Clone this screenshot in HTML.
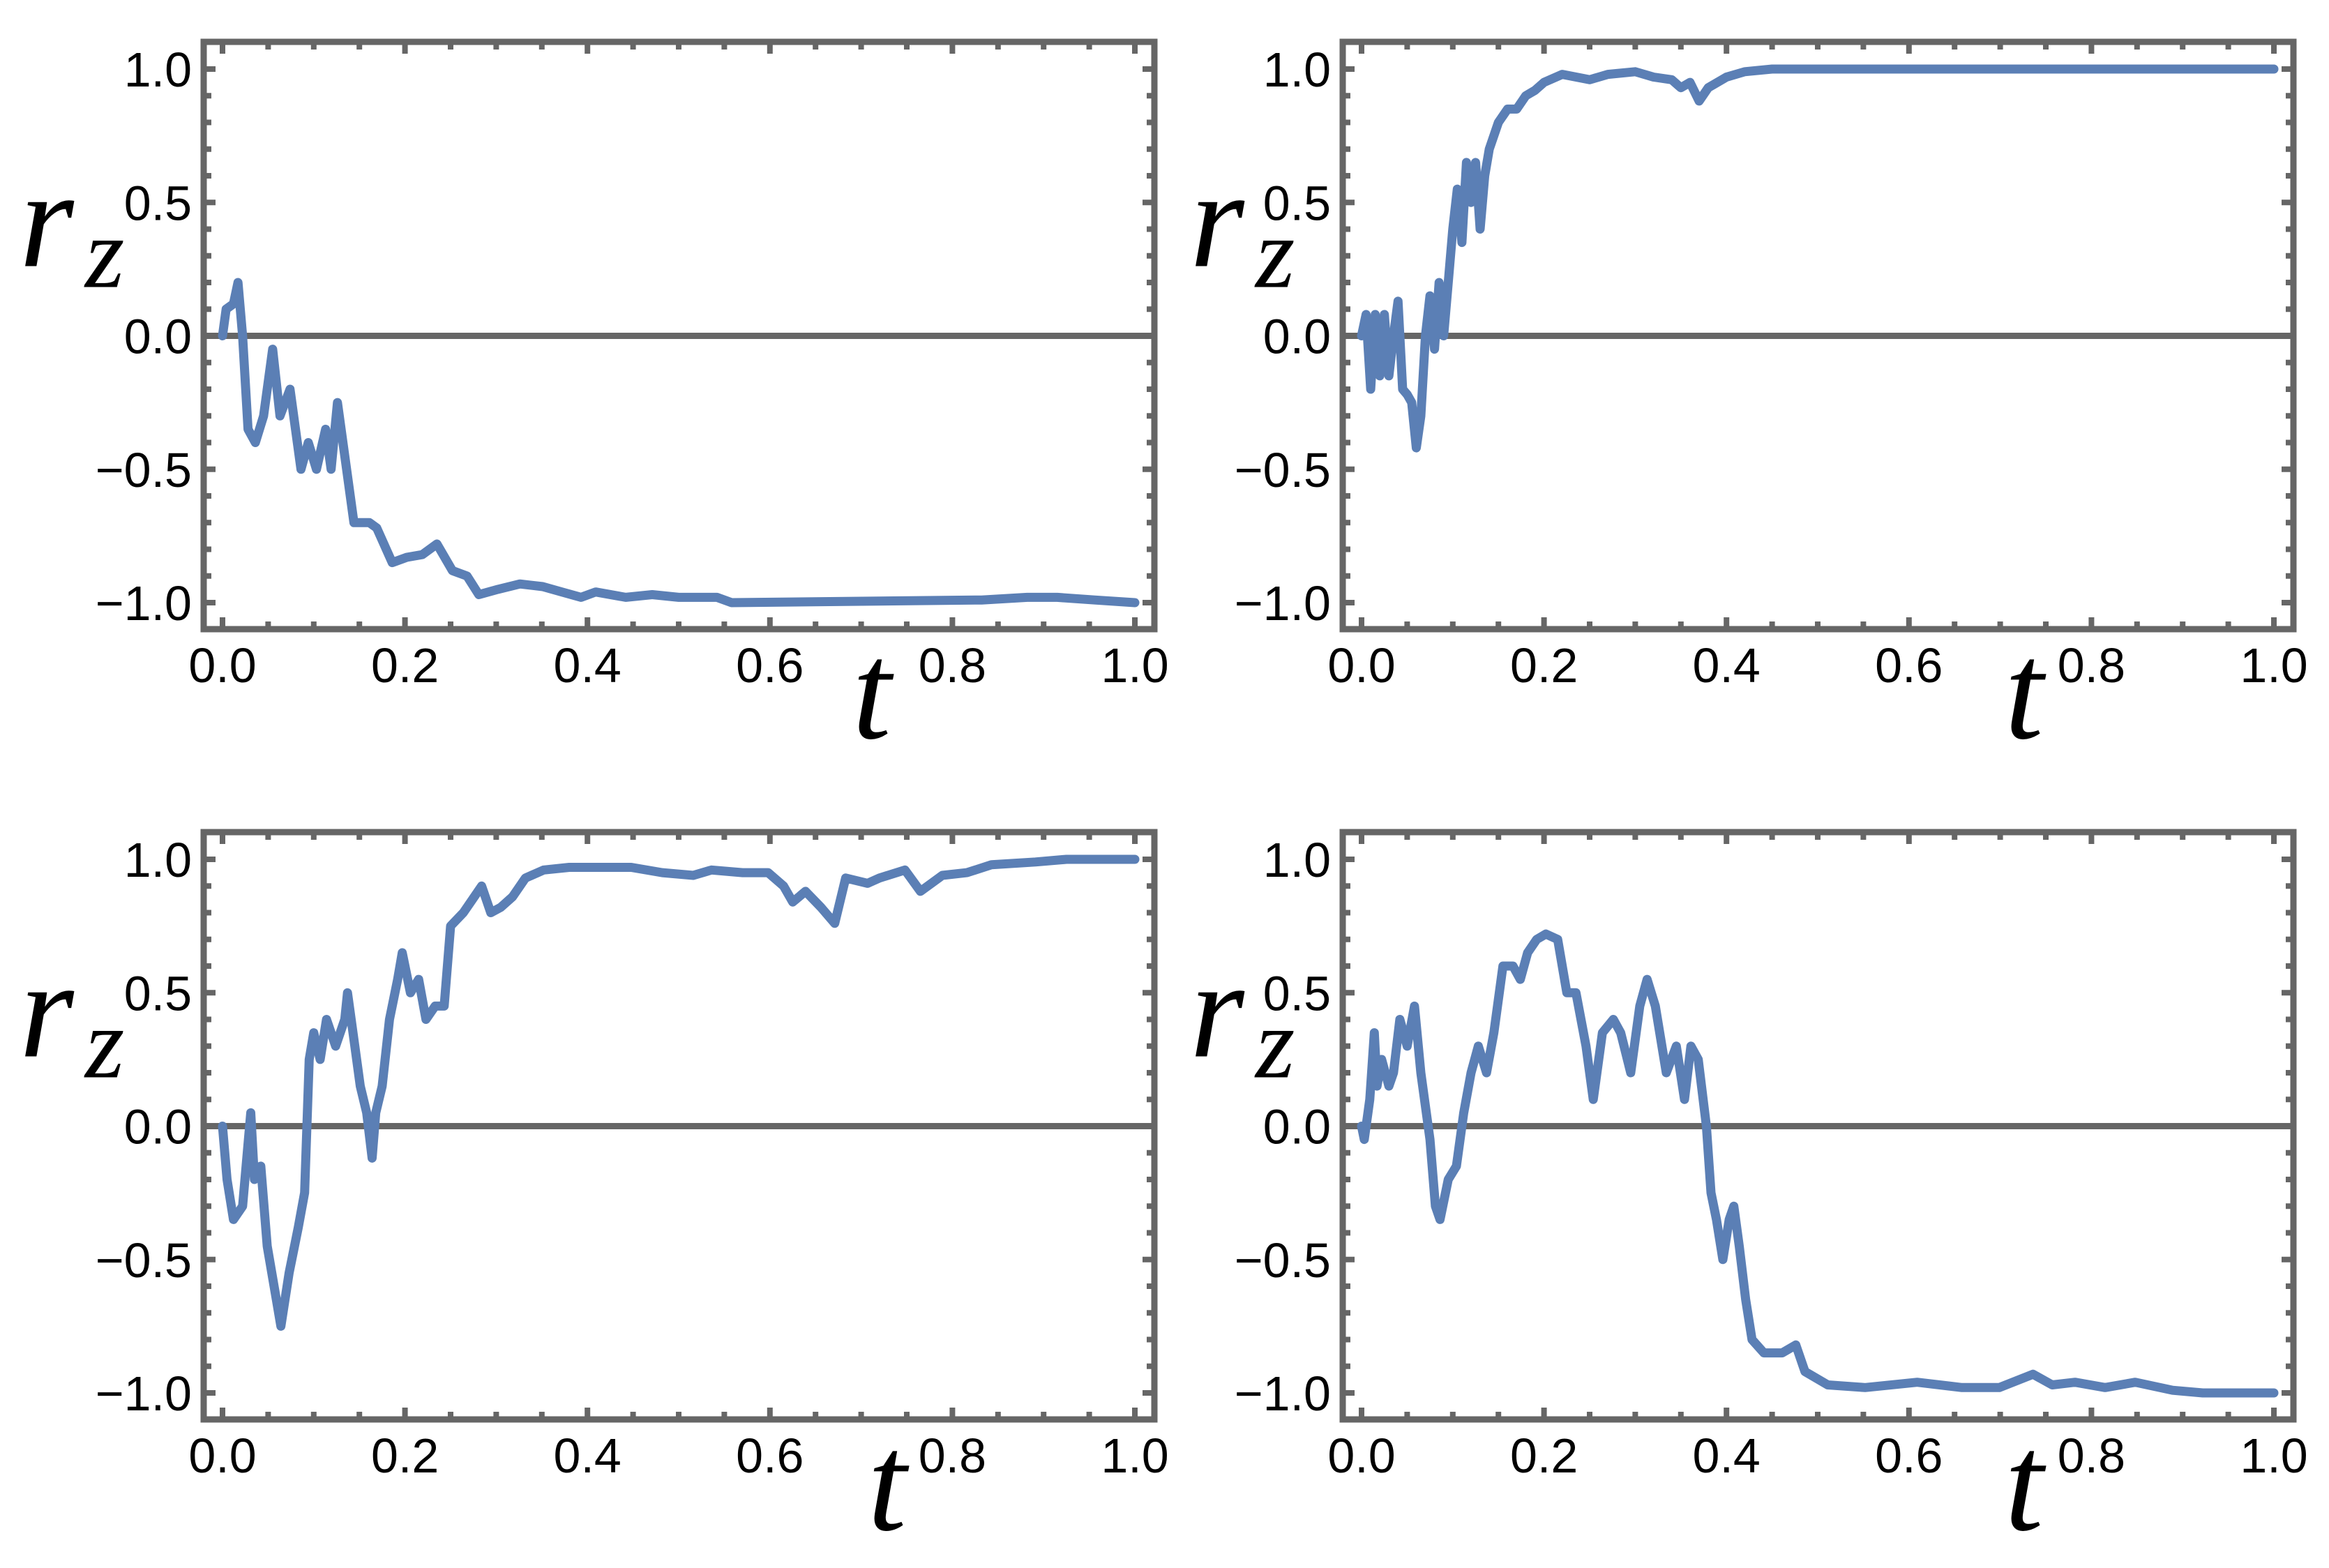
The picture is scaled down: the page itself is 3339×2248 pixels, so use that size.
<!DOCTYPE html>
<html><head><meta charset="utf-8"><style>
html,body{margin:0;padding:0;background:#fff;}
svg{display:block;}
</style></head><body>
<svg id="fig" width="3339" height="2248" viewBox="0 0 3339 2248" xmlns="http://www.w3.org/2000/svg"></svg>
<script>
const xTickLabels = ["0.0","0.2","0.4","0.6","0.8","1.0"];
const xTickValues = [0,0.2,0.4,0.6,0.8,1.0];
const yTickLabels = ["\u22121.0","\u22120.5","0.0","0.5","1.0"];
const yTickValues = [-1,-0.5,0,0.5,1];

const tA = [0,0.004,0.012,0.017,0.022,0.028,0.036,0.045,0.055,0.063,0.074,0.086,0.094,0.103,0.113,0.119,0.126,0.136,0.144,0.161,0.169,0.186,0.202,0.219,0.235,0.252,0.268,0.281,0.302,0.326,0.351,0.372,0.393,0.409,0.442,0.471,0.5,0.542,0.558,0.832,0.882,0.915,0.956,1.0];
const rA = [0,0.1,0.12,0.2,0,-0.35,-0.4,-0.3,-0.05,-0.3,-0.2,-0.5,-0.4,-0.5,-0.35,-0.5,-0.25,-0.5,-0.7,-0.7,-0.72,-0.85,-0.83,-0.82,-0.78,-0.88,-0.9,-0.97,-0.95,-0.93,-0.94,-0.96,-0.98,-0.96,-0.98,-0.97,-0.98,-0.98,-1.0,-0.99,-0.98,-0.98,-0.99,-1.0];

const tB = [0,0.005,0.01,0.015,0.02,0.025,0.03,0.035,0.04,0.045,0.05,0.055,0.06,0.065,0.07,0.075,0.08,0.085,0.09,0.095,0.1,0.105,0.11,0.115,0.12,0.125,0.13,0.135,0.14,0.15,0.16,0.17,0.18,0.19,0.2,0.22,0.25,0.27,0.3,0.32,0.34,0.35,0.36,0.37,0.38,0.4,0.42,0.45,1.0];
const rB = [0,0.08,-0.2,0.08,-0.15,0.08,-0.15,0,0.13,-0.2,-0.22,-0.25,-0.42,-0.3,0,0.15,-0.05,0.2,0,0.2,0.4,0.55,0.35,0.65,0.5,0.65,0.4,0.6,0.7,0.8,0.85,0.85,0.9,0.92,0.95,0.98,0.96,0.98,0.99,0.97,0.96,0.93,0.95,0.88,0.93,0.97,0.99,1.0,1.0];

const tC = [0,0.005,0.012,0.022,0.031,0.035,0.042,0.049,0.059,0.064,0.073,0.083,0.09,0.095,0.1,0.107,0.114,0.124,0.134,0.137,0.145,0.151,0.158,0.164,0.168,0.175,0.183,0.192,0.197,0.206,0.215,0.223,0.233,0.243,0.25,0.264,0.274,0.284,0.294,0.305,0.318,0.332,0.352,0.38,0.414,0.448,0.482,0.516,0.536,0.57,0.598,0.615,0.625,0.639,0.656,0.671,0.683,0.707,0.72,0.748,0.765,0.789,0.816,0.843,0.891,0.925,1.0];
const rC = [0,-0.2,-0.35,-0.3,0.05,-0.2,-0.15,-0.45,-0.65,-0.75,-0.55,-0.38,-0.25,0.25,0.35,0.25,0.4,0.3,0.4,0.5,0.3,0.15,0.05,-0.12,0.05,0.15,0.4,0.55,0.65,0.5,0.55,0.4,0.45,0.45,0.75,0.8,0.85,0.9,0.8,0.82,0.86,0.93,0.96,0.97,0.97,0.97,0.95,0.94,0.96,0.95,0.95,0.9,0.84,0.88,0.82,0.76,0.93,0.91,0.93,0.96,0.88,0.94,0.95,0.98,0.99,1.0,1.0];

const tD = [0,0.003,0.009,0.014,0.017,0.022,0.03,0.035,0.042,0.05,0.058,0.065,0.075,0.081,0.086,0.095,0.104,0.112,0.12,0.128,0.137,0.145,0.155,0.166,0.174,0.182,0.192,0.202,0.215,0.225,0.235,0.246,0.254,0.264,0.276,0.284,0.295,0.305,0.313,0.322,0.334,0.345,0.354,0.361,0.369,0.378,0.383,0.389,0.396,0.403,0.408,0.414,0.421,0.428,0.441,0.461,0.476,0.486,0.511,0.552,0.609,0.658,0.699,0.736,0.757,0.782,0.815,0.848,0.889,0.922,1.0];
const rD = [0,-0.05,0.1,0.35,0.15,0.25,0.15,0.2,0.4,0.3,0.45,0.2,-0.05,-0.3,-0.35,-0.2,-0.15,0.05,0.2,0.3,0.2,0.35,0.6,0.6,0.55,0.65,0.7,0.72,0.7,0.5,0.5,0.3,0.1,0.35,0.4,0.35,0.2,0.45,0.55,0.45,0.2,0.3,0.1,0.3,0.25,0,-0.25,-0.35,-0.5,-0.35,-0.3,-0.45,-0.65,-0.8,-0.85,-0.85,-0.82,-0.92,-0.97,-0.98,-0.96,-0.98,-0.98,-0.93,-0.97,-0.96,-0.98,-0.96,-0.99,-1.0,-1.0];

const panels = [
  {name:"top-left", x0:319, x1:1627, y1:99, ym1:864, t:tA, r:rA, rx:28, zx:122, tx:1222, tb:1058},
  {name:"top-right", x0:1952, x1:3260, y1:99, ym1:864, t:tB, r:rB, rx:1706, zx:1800, tx:2874, tb:1058},
  {name:"bottom-left", x0:319, x1:1627, y1:1232, ym1:1997, t:tC, r:rC, rx:28, zx:122, tx:1244, tb:2193},
  {name:"bottom-right", x0:1952, x1:3260, y1:1232, ym1:1997, t:tD, r:rD, rx:1706, zx:1800, tx:2874, tb:2193}
];
const NS = "http://www.w3.org/2000/svg";
const svg = document.getElementById("fig");
function mk(tag, attrs, parent){const e=document.createElementNS(NS,tag);for(const k in attrs)e.setAttribute(k,attrs[k]);(parent||svg).appendChild(e);return e;}
const GRAY="#666666";
const SANS='"Liberation Sans", sans-serif';
const SERIF='"Liberation Serif", serif';
panels.forEach(p=>{
  const X=v=>p.x0+(p.x1-p.x0)*v;
  const Y=v=>p.ym1+(p.y1-p.ym1)*(v+1)/2;
  const g=mk("g",{});
  
  
  const xL=p.x0-27,xR=p.x1+28,yT=p.y1-39,yB=p.ym1+38;
  const z=mk("line",{x1:xL,x2:xR,y1:Y(0),y2:Y(0),stroke:GRAY,"stroke-width":9},g);
  
  
  let d="";
  p.t.forEach((tv,i)=>{d+=(i?"L":"M")+X(tv).toFixed(1)+" "+Y(p.r[i]).toFixed(1);});
  const path=mk("path",{d:d,fill:"none",stroke:"#5b7fb5","stroke-width":13,"stroke-linejoin":"round","stroke-linecap":"round"},g);
  
  
  for(let i=0;i<=20;i++){
    const v=i*0.05, maj=(i%4===0), L=maj?13:7, x=X(v);
    const a=mk("line",{x1:x,x2:x,y1:yB-4,y2:yB-4-L,stroke:GRAY,"stroke-width":8},g);
    
    
    const b=mk("line",{x1:x,x2:x,y1:yT+4,y2:yT+4+L,stroke:GRAY,"stroke-width":8},g);
    
    
  }
  for(let i=0;i<=20;i++){
    const v=-1+i*0.1, maj=(i%5===0), L=maj?13:7, y=Y(v);
    const a=mk("line",{x1:xL+4,x2:xL+4+L,y1:y,y2:y,stroke:GRAY,"stroke-width":8},g);
    
    
    const b=mk("line",{x1:xR-4,x2:xR-4-L,y1:y,y2:y,stroke:GRAY,"stroke-width":8},g);
    
    
  }
  const fr=mk("rect",{x:xL,y:yT,width:xR-xL,height:yB-yT,fill:"none",stroke:GRAY,"stroke-width":9},g);
  
  
  xTickValues.forEach((v,i)=>{
    const t=mk("text",{x:X(v),y:yB+76,"font-size":70,"font-family":SANS,"text-anchor":"middle",fill:"#000"},g);
    t.textContent=xTickLabels[i];
    
    
  });
  yTickValues.forEach((v,i)=>{
    const t=mk("text",{x:xL-17,y:Y(v)+25,"font-size":70,"font-family":SANS,"text-anchor":"end",fill:"#000"},g);
    t.textContent=yTickLabels[i];
    
    
  });
  const yl=mk("text",{x:p.rx,y:Y(0)-100,"font-size":200,"font-family":SERIF,"font-style":"italic",fill:"#000"},g);
  yl.textContent="r";
  
  
  const zl=mk("text",{x:p.zx,y:Y(0)-70,"font-size":145,"font-family":SERIF,"font-style":"italic",fill:"#000"},g);
  zl.textContent="z";
  
  
  const tl=mk("text",{x:p.tx,y:p.tb,"font-size":200,"font-family":SERIF,"font-style":"italic",fill:"#000"},g);
  tl.textContent="t";
  
  
});
</script>
</body></html>
